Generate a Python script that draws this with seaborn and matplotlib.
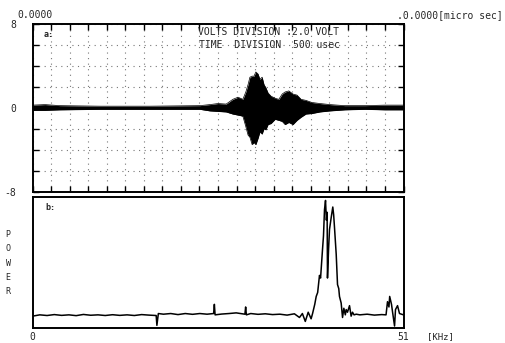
import numpy as np
import pandas as pd
import matplotlib
matplotlib.use("Agg")
import matplotlib.pyplot as plt
import seaborn as sns

# ---- data: waveform envelope (time in micro sec, volts) ----
time_us = [0, 340, 740, 1820, 3170, 4510, 4780, 5000, 5220, 5400,
           5540, 5670, 5750, 5810, 5860, 5920, 5970, 6020, 6080, 6130,
           6190, 6240, 6290, 6350, 6430, 6540, 6640, 6730, 6810, 6910,
           7020, 7130, 7240, 7370, 7530, 7750, 8020, 8420, 8960, 9500, 10000]
volt_upper = [0.25, 0.3, 0.2, 0.15, 0.15, 0.2, 0.3, 0.4, 0.35, 0.8,
              1.0, 0.8, 1.5, 2.2, 2.9, 3.0, 3.0, 3.4, 3.2, 2.7,
              2.9, 2.2, 1.9, 1.4, 1.1, 0.9, 0.8, 1.3, 1.5, 1.6,
              1.3, 1.2, 0.8, 0.7, 0.5, 0.4, 0.3, 0.2, 0.2, 0.25, 0.25]
volt_lower = [-0.25, -0.25, -0.2, -0.15, -0.15, -0.15, -0.3, -0.35, -0.4, -0.6,
              -0.7, -0.8, -1.8, -2.6, -2.8, -3.5, -3.3, -3.5, -2.9, -2.3,
              -2.5, -2.0, -2.1, -1.6, -1.5, -1.1, -1.2, -1.3, -1.6, -1.4,
              -1.6, -1.2, -0.9, -0.6, -0.55, -0.4, -0.3, -0.2, -0.15, -0.2, -0.2]

# ---- data: power spectrum (kHz, relative power) ----
freq_khz = [0, 1, 2, 3, 4, 5, 6, 7, 8, 9, 10, 11, 12, 13, 14, 15, 16, 17.0, 17.1, 17.3,
            18, 19, 20, 21, 22, 23, 24, 24.9, 25.0, 25.1, 26, 27, 28, 29.2, 29.3, 29.4,
            30, 31, 32, 33, 34, 35, 36, 36.7, 37.1, 37.5, 37.9, 38.3, 38.5, 38.8,
            39.0, 39.2, 39.45, 39.6, 39.87, 40.0, 40.14, 40.28, 40.4, 40.5, 40.55, 40.7,
            40.83, 41.06, 41.28, 41.4, 41.52, 41.75, 41.93, 42.1, 42.2, 42.43, 42.62,
            42.8, 43.0, 43.12, 43.3, 43.58, 43.8, 43.99, 44.2, 44.5, 45, 46, 47, 48,
            48.6, 48.8, 49.0, 49.1, 49.35, 49.5, 49.77, 49.9, 50.18, 50.45, 51]
power = [9, 10, 9.5, 10.2, 9.6, 10, 9.4, 10.3, 9.7, 10, 9.5, 10.1, 9.6, 10, 9.5, 10.2, 9.8, 9.5, 2, 11,
         10.5, 11, 10.2, 11, 10.4, 11, 10.5, 11, 18, 10, 10.6, 11, 11.5, 10.5, 16, 10,
         11, 10.4, 10.8, 10.2, 10.5, 9.8, 10.8, 8, 11, 5, 12, 7, 11, 18,
         24, 27, 40, 38, 60, 70, 90, 97, 82, 88, 38, 60,
         75, 84, 92, 86, 76, 56, 33, 30, 24, 19, 8,
         15, 10, 14, 12, 17, 9, 12, 10, 10.5, 10, 10.5, 9.8, 10.2,
         10, 20, 16, 24, 18, 12, 1.5, 14, 17, 11, 10]

volt_ticks = [-8, -6, -4, -2, 0, 2, 4, 6, 8]
volt_ticklabels = ["-8", "", "", "", "0", "", "", "", "8"]
freq_ticks = [0, 51]
freq_ticklabels = ["0", "51"]

wave = pd.DataFrame({"t": time_us, "up": volt_upper, "lo": volt_lower})
spec = pd.DataFrame({"f": freq_khz, "p": power})

sns.set_theme(style="white")
plt.rcParams["font.family"] = ["DejaVu Sans Mono"]

W, H = 505, 343
fig = plt.figure(figsize=(W / 100, H / 100), dpi=100)

def box(x0, y0, x1, y1):
    return [x0 / W, 1 - y1 / H, (x1 - x0) / W, (y1 - y0) / H]

ax1 = fig.add_axes(box(32.5, 23.5, 403.5, 192))
ax2 = fig.add_axes(box(32.5, 196.5, 403.5, 328))

# ---- top: waveform ----
ax1.fill_between(wave["t"], wave["lo"], wave["up"], color="black", lw=0)
sns.lineplot(data=wave, x="t", y="up", ax=ax1, color="black", lw=0.5, estimator=None)
sns.lineplot(data=wave, x="t", y="lo", ax=ax1, color="black", lw=0.5, estimator=None)
ax1.set_xlim(0, 10000)
ax1.set_ylim(-8, 8)
ax1.set_xticks(np.arange(0, 10001, 500))
ax1.set_xticklabels([])
ax1.set_yticks(volt_ticks)
ax1.set_yticklabels(volt_ticklabels, fontsize=7)
ax1.tick_params(axis="x", direction="in", length=4, width=1, top=True, bottom=True,
                labelbottom=False, color="black")
ax1.tick_params(axis="y", direction="in", length=4, width=1, left=True, right=True,
                pad=12, color="black")
ax1.grid(True, color="#777777", linestyle=(0, (1, 4)), lw=0.8)
ax1.set_xlabel("")
ax1.set_ylabel("")
for s in ax1.spines.values():
    s.set_color("black")
    s.set_linewidth(1.4)
ax1.text(0.03, 0.92, "a:", transform=ax1.transAxes, fontsize=6, fontweight="bold")
ax1.text(0.445, 0.95, "VOLTS DIVISION :2.0 VOLT", transform=ax1.transAxes,
         fontsize=7, va="center", ha="left")
ax1.text(0.45, 0.87, "TIME  DIVISION  500 usec", transform=ax1.transAxes,
         fontsize=7, va="center", ha="left")

# ---- bottom: spectrum ----
sns.lineplot(data=spec, x="f", y="p", ax=ax2, color="black", lw=1.1, estimator=None)
ax2.set_xlim(0, 51)
ax2.set_ylim(0, 100)
ax2.set_xticks(freq_ticks)
ax2.set_xticklabels(freq_ticklabels, fontsize=7)
ax2.set_yticks([])
ax2.tick_params(axis="x", length=0, pad=3)
ax2.set_xlabel("")
ax2.set_ylabel("")
for s in ax2.spines.values():
    s.set_color("black")
    s.set_linewidth(1.4)
ax2.text(0.035, 0.9, "b:", transform=ax2.transAxes, fontsize=6, fontweight="bold")

# ---- figure texts ----
fig.text(17 / W, 1 - 15 / H, "0.0000", fontsize=7, va="center", ha="left")
fig.text(503 / W, 1 - 15 / H, ".0.0000[micro sec]", fontsize=7, va="center", ha="right")
fig.text(427 / W, 1 - 337 / H, "[KHz]", fontsize=6.5, va="center", ha="left")
fig.text(8 / W, 1 - 263 / H, "P\nO\nW\nE\nR", fontsize=6, va="center", ha="center",
         linespacing=1.75)

fig.savefig("out.png", dpi=100)
